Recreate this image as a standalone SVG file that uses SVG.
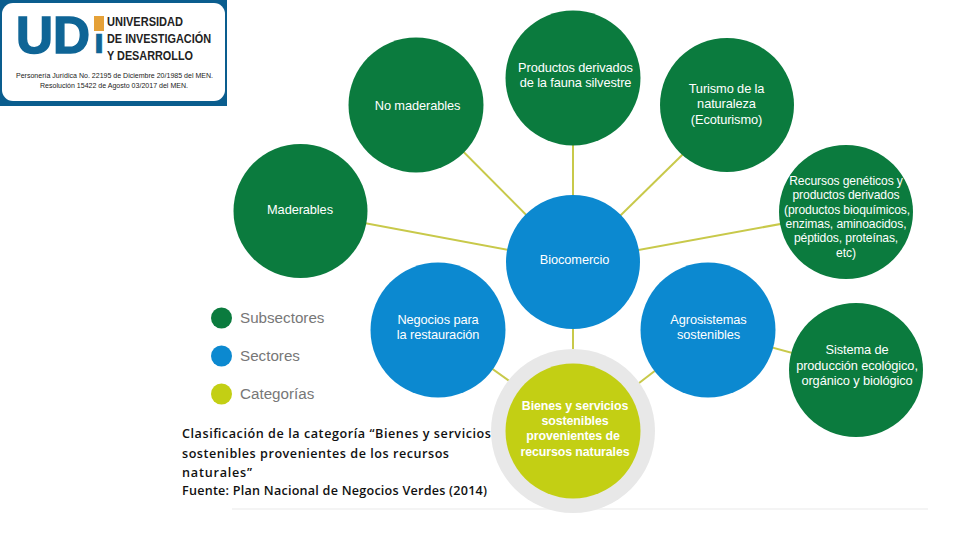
<svg xmlns="http://www.w3.org/2000/svg" width="960" height="540" viewBox="0 0 960 540">
<style>
text{font-family:"Liberation Sans",Arial,sans-serif;text-anchor:middle}
.n{fill:#fff;font-size:12.8px;letter-spacing:-.1px}
.r{font-size:12.1px}
.g{fill:#0b7b3e}.b{fill:#0c89d0}.y{fill:#c3cf14}
.l{fill:#777;font-size:15.2px;text-anchor:start}
.c{font-family:"Open Sans","DejaVu Sans",sans-serif;font-size:12.6px;fill:#111;text-anchor:start;font-weight:600}
.h{font-weight:700;fill:#222;font-size:12.5px;text-anchor:start}
.s{font-size:8px;fill:#222}
.u{font-weight:700;fill:#0f6596;stroke:#0f6596;text-anchor:start}
#connectors line{stroke:#c8c94a;stroke-width:2}
</style>
<rect width="960" height="540" fill="#fff"/>
<g id="logo">
<rect x="0" y="0" width="227" height="106" fill="#0a5d8e"/>
<rect x="2" y="3" width="223" height="98" rx="11" fill="#fff"/>
<text class="u" x="16" y="52.500" style="font-size:51px;stroke-width:1.500" textLength="74" lengthAdjust="spacingAndGlyphs">UD</text>
<text class="u" x="94" y="52.500" style="font-size:28px;stroke-width:.5" textLength="10" lengthAdjust="spacingAndGlyphs">I</text>
<rect x="94" y="16" width="10" height="15" fill="#e5a138"/>
<text class="h" x="107" y="26" textLength="76" lengthAdjust="spacingAndGlyphs">UNIVERSIDAD</text>
<text class="h" x="107" y="43" textLength="104" lengthAdjust="spacingAndGlyphs">DE INVESTIGACIÓN</text>
<text class="h" x="107" y="60" textLength="86" lengthAdjust="spacingAndGlyphs">Y DESARROLLO</text>
<text class="s" x="114.500" y="78" textLength="197" lengthAdjust="spacingAndGlyphs">Personería Jurídica No. 22195 de Diciembre 20/1985 del MEN.</text>
<text class="s" x="114" y="88" textLength="148" lengthAdjust="spacingAndGlyphs">Resolución 15422 de Agosto 03/2017 del MEN.</text>
</g>
<rect x="232" y="508" width="696" height="2" fill="#f4f4f4"/>
<g id="connectors">
<line x1="573" y1="262" x2="573" y2="140"/>
<line x1="573" y1="262" x2="417" y2="105"/>
<line x1="573" y1="262" x2="727" y2="111"/>
<line x1="573" y1="262" x2="300" y2="211"/>
<line x1="573" y1="262" x2="846" y2="212"/>
<line x1="573" y1="262" x2="573" y2="360"/>
<line x1="438" y1="330" x2="515" y2="385"/>
<line x1="708" y1="330" x2="630" y2="390"/>
<line x1="708" y1="330" x2="855" y2="370"/>
</g>
<g id="maderables"><circle class="g" cx="300.500" cy="211" r="67"/><text class="n" x="300" y="213.500">Maderables</text></g>
<g id="no-maderables"><circle class="g" cx="416" cy="105" r="67.500"/><text class="n" x="417.500" y="109.500">No maderables</text></g>
<g id="productos"><circle class="g" cx="573" cy="78" r="67.500"/><text class="n" x="575.500" y="71.500">Productos derivados</text><text class="n" x="575.500" y="86.500">de la fauna silvestre</text></g>
<g id="turismo"><circle class="g" cx="727" cy="105" r="67"/><text class="n" x="726.500" y="93">Turismo de la</text><text class="n" x="726.500" y="108">naturaleza</text><text class="n" x="726.500" y="124">(Ecoturismo)</text></g>
<g id="recursos"><circle class="g" cx="846" cy="212" r="67"/>
<text class="n r" x="846" y="185">Recursos genéticos y</text><text class="n r" x="846" y="199">productos derivados</text><text class="n r" x="847" y="214">(productos bioquímicos,</text><text class="n r" x="846" y="228">enzimas, aminoacidos,</text><text class="n r" x="846" y="242">péptidos, proteínas,</text><text class="n r" x="846" y="257">etc)</text></g>
<g id="biocomercio"><circle class="b" cx="573" cy="262" r="67"/><text class="n" x="574.500" y="264">Biocomercio</text></g>
<g id="negocios"><circle class="b" cx="438" cy="330" r="67.500"/><text class="n" x="438" y="323.500">Negocios para</text><text class="n" x="438" y="338.500">la restauración</text></g>
<g id="agrosistemas"><circle class="b" cx="708" cy="330" r="67.500"/><text class="n" x="708.500" y="323.500">Agrosistemas</text><text class="n" x="708.500" y="339">sostenibles</text></g>
<g id="sistema"><circle class="g" cx="856" cy="370" r="67"/><text class="n" x="857" y="354">Sistema de</text><text class="n" x="857" y="369.500">producción ecológico,</text><text class="n" x="857" y="385">orgánico y biológico</text></g>
<g id="bienes"><circle cx="573" cy="431" r="82" fill="#e8e8e8"/><circle class="y" cx="573" cy="431" r="67.500"/>
<g style="font-weight:700"><text class="n" x="575" y="409.500" style="font-size:12.400px">Bienes y servicios</text><text class="n" x="575" y="425" style="font-size:12.400px">sostenibles</text><text class="n" x="573" y="440" style="font-size:12.400px">provenientes de</text><text class="n" x="575" y="455.500" style="font-size:12.400px">recursos naturales</text></g></g>
<g id="legend">
<circle class="g" cx="221.500" cy="318" r="10.500"/><text class="l" x="240" y="322.500">Subsectores</text>
<circle class="b" cx="221.500" cy="356" r="10.500"/><text class="l" x="240" y="360.500">Sectores</text>
<circle class="y" cx="221.500" cy="394" r="10.500"/><text class="l" x="240" y="399">Categorías</text>
</g>
<g id="caption">
<text class="c" x="182" y="437.500" textLength="309">Clasificación de la categoría “Bienes y servicios</text>
<text class="c" x="182" y="457.500" textLength="267">sostenibles provenientes de los recursos</text>
<text class="c" x="182" y="476.500" textLength="70">naturales”</text>
<text class="c" x="182" y="495" textLength="305">Fuente: Plan Nacional de Negocios Verdes (2014)</text>
</g>
</svg>
